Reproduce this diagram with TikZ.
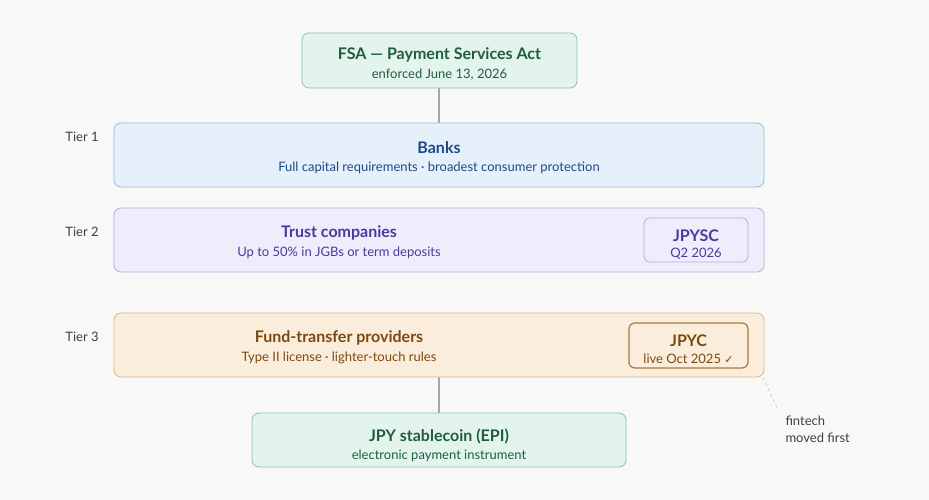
\documentclass[tikz,border=0pt]{standalone}
\usepackage{fontspec}
\setmainfont{Lato}
\begin{document}
\begin{tikzpicture}[x=1pt,y=-1pt,
 box/.style={draw=#1,rounded corners=7pt,line width=0.8pt},
 ttl/.style={font=\fontsize{16}{18}\selectfont\bfseries,text=#1},
 sub/.style={font=\fontsize{13}{15}\selectfont,text=#1},
 tier/.style={font=\fontsize{13}{15}\selectfont,text=black!75}]
\definecolor{bg}{HTML}{F8F8F6}
\definecolor{gF}{HTML}{E3F4EC}\definecolor{gD}{HTML}{8CC4A8}\definecolor{gT}{HTML}{1F5C42}
\definecolor{bF}{HTML}{E6F0FB}\definecolor{bD}{HTML}{9AB8DA}\definecolor{bT}{HTML}{1D4A86}
\definecolor{pF}{HTML}{EFEDFB}\definecolor{pD}{HTML}{B3AEE0}\definecolor{pT}{HTML}{4A3AA0}
\definecolor{oF}{HTML}{FBEDDB}\definecolor{oD}{HTML}{D6B892}\definecolor{oT}{HTML}{7A4A10}\definecolor{oK}{HTML}{A87A40}
\fill[bg] (0,0) rectangle (929,500);
\useasboundingbox (0,0) rectangle (929,500);
% connectors first
\coordinate (c1) at (439,88);
\coordinate (c2) at (439,123);
\coordinate (c3) at (439,377);
\coordinate (c4) at (439,413);
\draw[gray!70,line width=1.2pt] (c1) -- (c2);
\draw[gray!70,line width=1.2pt] (c3) -- (c4);
\coordinate (d1) at (748,345);
\coordinate (d2) at (778,410);
\draw[gray!50,dashed,line width=0.6pt] (d1) -- (d2);
% boxes
\draw[box=gD,fill=gF] (302,33) rectangle (577,88);
\node (fsa) at (439.5,55) [ttl=gT] {FSA — Payment Services Act};
\node (fsas) at (439.5,75) [sub=gT] {enforced June 13, 2026};
\draw[box=bD,fill=bF] (114,123) rectangle (764,187);
\node (bk) at (439,148) [ttl=bT] {Banks};
\node (bks) at (439,168) [sub=bT] {Full capital requirements · broadest consumer protection};
\draw[box=pD,fill=pF] (114,208) rectangle (764,272);
\node (tr) at (339,233) [ttl=pT] {Trust companies};
\node (trs) at (339,253) [sub=pT] {Up to 50\% in JGBs or term deposits};
\draw[box=pD,fill=pF,rounded corners=6pt] (644,218) rectangle (748,262);
\node (jy) at (696,236) [ttl=pT] {JPYSC};
\node (jys) at (696,254) [sub=pT] {Q2 2026};
\draw[box=oD,fill=oF] (114,313) rectangle (764,377);
\node (fu) at (339,338) [ttl=oT] {Fund-transfer providers};
\node (fus) at (339,358) [sub=oT] {Type II license · lighter-touch rules};
\draw[box=oK,fill=oF,rounded corners=6pt,line width=1.2pt] (629,323) rectangle (748,368);
\node (jc) at (688.5,341) [ttl=oT] {JPYC};
\node (jcs) at (688.5,359) [sub=oT] {live Oct 2025 {\fontspec{DejaVu Sans}\fontsize{11}{13}\selectfont ✓}};
\draw[box=gD,fill=gF] (252,413) rectangle (626,467);
\node (st) at (439,436) [ttl=gT] {JPY stablecoin (EPI)};
\node (sts) at (439,456) [sub=gT] {electronic payment instrument};
\node (t1) at (82,137) [tier] {Tier 1};
\node (t2) at (82,232) [tier] {Tier 2};
\node (t3) at (82,337) [tier] {Tier 3};
\node (fn) at (782,429) [anchor=west,align=left,font=\fontsize{13}{17}\selectfont,text=black!75] {fintech\\moved first};
\end{tikzpicture}
\end{document}
